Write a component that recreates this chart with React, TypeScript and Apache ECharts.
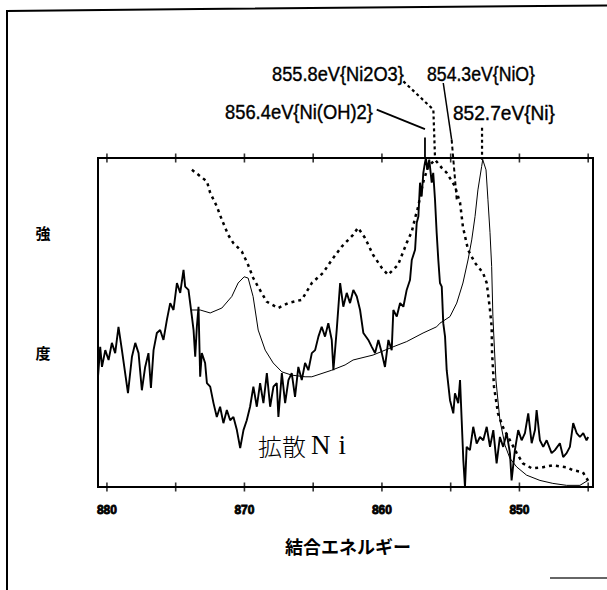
import { useEffect, useRef } from "react";
import * as echarts from "echarts";

// binding energy axis (eV), reversed
const xRange = [844.65, 880.65];
const xTicks = [845, 850, 855, 860, 865, 870, 875, 880];
const xTickLabels = [850, 860, 870, 880];
const yRange = [0, 100];

// 拡散Ni (diffused Ni) – noisy measured spectrum  [eV, intensity]
const diffusedNi: [number, number][] = [
  [880.65, 33.5], [880.49, 42.6], [880.36, 36.5], [880.12, 41.6], [879.88, 38.6], [879.64, 43.8],
  [879.4, 40.7], [879.16, 48.7], [878.91, 41.6], [878.47, 28.5], [878.18, 39.6], [877.94, 43.8],
  [877.7, 40.7], [877.46, 29.4], [877.22, 36.5], [876.98, 40.7], [876.8, 30.1], [876.61, 41.6],
  [876.37, 46.8], [876.13, 47.7], [875.89, 44.7], [875.64, 50.8], [875.4, 55.9], [875.16, 53.8],
  [874.91, 62.0], [874.67, 59.0], [874.43, 66.0], [874.31, 60.9], [874.07, 59.9], [873.82, 51.8],
  [873.7, 47.7], [873.58, 39.6], [873.46, 48.7], [873.34, 54.8], [873.22, 33.5], [873.1, 40.7],
  [872.86, 37.7], [872.73, 31.6], [872.49, 30.5], [872.25, 25.5], [872.01, 21.3], [871.77, 24.4],
  [871.53, 19.4], [871.28, 23.4], [871.04, 20.3], [870.8, 21.3], [870.55, 17.3], [870.31, 11.8],
  [870.07, 17.3], [869.83, 20.3], [869.59, 24.4], [869.35, 30.5], [869.1, 24.4], [868.86, 31.6],
  [868.62, 25.5], [868.37, 34.6], [868.13, 24.4], [867.89, 30.5], [867.65, 31.6], [867.53, 21.3],
  [867.28, 34.6], [867.04, 25.5], [866.8, 32.5], [866.56, 34.6], [866.32, 27.4], [866.08, 36.5],
  [865.83, 32.5], [865.59, 37.7], [865.35, 35.5], [865.1, 40.7], [864.86, 41.6], [864.62, 45.7],
  [864.38, 48.7], [864.14, 45.7], [863.9, 49.8], [863.65, 44.7], [863.53, 35.5], [863.29, 47.7],
  [863.04, 62.0], [862.81, 54.8], [862.56, 59.0], [862.32, 55.9], [862.08, 59.9], [861.83, 57.9],
  [861.59, 53.8], [861.35, 46.8], [860.99, 44.7], [860.74, 42.6], [860.5, 40.7], [860.26, 44.7],
  [860.01, 40.7], [859.78, 36.5], [859.53, 44.7], [859.29, 41.6], [859.17, 53.8], [858.92, 51.8],
  [858.68, 55.9], [858.44, 54.8], [858.2, 59.9], [857.96, 62.9], [857.83, 69.0], [857.59, 72.1],
  [857.47, 80.3], [857.35, 82.2], [857.23, 92.5], [857.11, 88.3], [856.99, 95.5], [856.87, 98.6],
  [856.8, 100], [856.7, 96.4], [856.56, 99.5], [856.38, 92.5], [856.27, 95.5], [856.14, 87.3],
  [856.02, 77.3], [855.9, 69.0], [855.78, 62.0], [855.65, 60.9], [855.54, 49.8], [855.41, 45.7],
  [855.29, 35.5], [855.05, 26.4], [854.81, 22.4], [854.69, 28.5], [854.45, 25.5], [854.32, 32.5],
  [854.2, 20.3], [854.08, 8.1], [853.96, 0], [853.84, 12.2], [853.6, 11.2], [853.36, 18.3],
  [853.11, 13.2], [852.87, 15.2], [852.63, 14.2], [852.38, 18.3], [852.14, 12.2], [851.9, 17.3],
  [851.66, 7.2], [851.42, 15.2], [851.18, 12.2], [850.93, 16.4], [850.69, 10.3], [850.57, 2.0],
  [850.33, 11.2], [850.09, 17.3], [849.84, 14.2], [849.6, 16.4], [849.36, 22.4], [849.11, 13.3],
  [848.87, 17.3], [848.75, 23.4], [848.51, 14.2], [848.27, 12.2], [848.02, 14.2], [847.66, 10.3],
  [847.42, 11.2], [847.06, 13.3], [846.82, 9.1], [846.57, 10.3], [846.33, 12.2], [846.09, 19.4],
  [845.84, 16.4], [845.6, 15.2], [845.36, 16.4], [845.12, 14.2], [845.0, 15.2],
];

// thin solid reference spectrum (Ni, peak 852.7 eV)
const refNi: [number, number][] = [
  [873.82, 53.8], [873.22, 53.8], [872.49, 52.9], [871.64, 54.4], [870.92, 57.9], [870.46, 62.0],
  [870.02, 63.9], [869.73, 63.5], [869.37, 57.9], [869.0, 47.7], [868.49, 41.6], [867.91, 37.7],
  [867.28, 35.0], [866.56, 34.0], [865.59, 33.5], [865.1, 33.5], [863.65, 35.5], [862.68, 37.1],
  [862.1, 38.6], [860.65, 40.1], [859.19, 42.6], [858.2, 44.2], [857.01, 46.8], [856.02, 48.7],
  [855.78, 49.8], [855.05, 51.8], [854.56, 55.9], [854.11, 62.0], [853.74, 69.0], [853.47, 75.1],
  [853.23, 82.2], [853.02, 90.3], [852.75, 97.4], [852.67, 99.5], [852.43, 96.4], [852.29, 87.3],
  [852.14, 77.3], [852.02, 67.0], [851.93, 51.8], [851.71, 32.5], [851.42, 20.3], [851.05, 12.7],
  [850.69, 8.7], [850.2, 6.1], [849.48, 3.6], [848.51, 2.0], [847.57, 1.1], [846.57, 0.5],
  [845.6, 0.5], [845.02, 2.0],
];

// dotted reference spectrum (peak near 856 eV)
const refOxide: [number, number][] = [
  [873.82, 96.4], [872.73, 92.9], [872.49, 89.4], [872.01, 85.3], [871.64, 81.2], [871.18, 76.6],
  [870.82, 74.2], [870.19, 71.6], [869.73, 67.5], [869.37, 63.6], [869.0, 60.8], [868.37, 56.3],
  [867.55, 54.4], [866.82, 55.9], [865.83, 56.9], [865.1, 62.0], [864.28, 65.1], [863.65, 69.0],
  [862.92, 73.1], [862.1, 76.6], [861.74, 78.8], [861.23, 75.7], [860.65, 70.6], [860.01, 66.6],
  [859.56, 64.5], [858.83, 67.5], [858.2, 74.2], [857.83, 77.6], [857.59, 81.8], [857.38, 84.9],
  [857.01, 92.5], [856.65, 97.3], [856.14, 99.5], [855.65, 97.0], [855.29, 95.5], [854.69, 91.4],
  [854.32, 86.4], [854.11, 79.1], [853.74, 72.1], [853.23, 68.1], [852.65, 65.1], [852.38, 62.0],
  [852.14, 53.8], [852.02, 48.7], [851.99, 40.7], [851.85, 30.5], [851.56, 22.4], [851.2, 18.2],
  [850.69, 14.2], [850.2, 10.3], [849.75, 7.2], [849.11, 5.7], [848.29, 6.0], [847.57, 6.6],
  [846.57, 6.0], [846.11, 5.1], [845.39, 4.5], [845.02, 2.0], [844.88, 0.8],
];

// peak marker lines (eV, intensity; drawn above the frame)
const markNiOH2Leader: [number, number][] = [[860.38, 114.7], [856.87, 108.8]];
const markNiOH2: [number, number][] = [[856.87, 106.2], [856.87, 100]];
const markNi2O3: [number, number][] = [[858.44, 123.3], [856.26, 114.7], [856.14, 100]];
const markNiOLeader: [number, number][] = [[855.54, 122.8], [854.93, 105.6]];
const markNiO: [number, number][] = [[854.93, 105.6], [854.56, 87.3]];
const markNi: [number, number][] = [[852.72, 109.2], [852.72, 99.5]];

const peakLabels = ["855.8eV{Ni2O3}", "854.3eV{NiO}", "856.4eV{Ni(OH)2}", "852.7eV{Ni}"];
const sampleLabel = "拡散Ni";
const xName = "結合エネルギー";
const yName = ["強", "度"];

function measure(text: string, font: string): number {
  const c = document.createElement("canvas").getContext("2d");
  if (!c) return text.length * 10;
  c.font = font;
  return c.measureText(text).width;
}

export default function App() {
  const ref = useRef<HTMLDivElement>(null);
  useEffect(() => {
    if (!ref.current) return;
    const chart = echarts.init(ref.current, null, { renderer: "svg" });
    const labelFont = '20px "Liberation Sans"';
    const fitText = (text: string, left: number, right: number, cy: number) => ({
      type: "text",
      x: left,
      y: cy,
      scaleX: (right - left) / measure(text, labelFont),
      style: {
        text,
        font: labelFont,
        fill: "#000",
        textAlign: "left",
        textVerticalAlign: "middle",
        stroke: "#000",
        lineWidth: 0.4,
      },
    });
    const markStyle = (width: number, type: any) => ({
      type: "line",
      clip: false,
      symbol: "none",
      silent: true,
      lineStyle: { color: "#000", width, type },
    });
    const tickSeries = (y: number) => ({
      type: "scatter",
      clip: false,
      silent: true,
      symbol: "rect",
      symbolSize: [1.6, 9],
      itemStyle: { color: "#000" },
      data: xTicks.map((v) => [v, y]),
    });
    chart.setOption({
      animation: false,
      backgroundColor: "#fff",
      grid: {
        left: 98,
        top: 158,
        width: 495,
        height: 329,
        show: true,
        borderColor: "#000",
        borderWidth: 2,
        backgroundColor: "transparent",
      },
      xAxis: {
        type: "value",
        min: xRange[0],
        max: xRange[1],
        inverse: true,
        axisLine: { show: false },
        splitLine: { show: false },
        axisTick: { show: false },
        axisLabel: {
          show: true,
          customValues: xTickLabels,
          margin: 17,
          fontFamily: "Liberation Sans",
          fontWeight: 900,
          fontSize: 12,
          color: "#000",
          textBorderColor: "#000",
          textBorderWidth: 0.8,
        },
      },
      yAxis: {
        type: "value",
        min: yRange[0],
        max: yRange[1],
        axisLine: { show: false },
        axisTick: { show: false },
        axisLabel: { show: false },
        splitLine: { show: false },
      },
      series: [
        {
          name: "reference oxide",
          type: "line",
          data: refOxide,
          symbol: "none",
          lineStyle: { color: "#000", width: 2.5, type: [3, 4] },
        },
        {
          name: "reference Ni",
          type: "line",
          data: refNi,
          symbol: "none",
          lineStyle: { color: "#000", width: 1 },
        },
        {
          name: sampleLabel,
          type: "line",
          data: diffusedNi,
          symbol: "none",
          lineStyle: { color: "#000", width: 1.9 },
        },
        tickSeries(yRange[0]),
        tickSeries(yRange[1]),
        { ...markStyle(1.8, "solid"), data: markNiOH2Leader },
        { ...markStyle(1.8, "solid"), data: markNiOH2 },
        { ...markStyle(2.2, [3, 3]), data: markNi2O3 },
        { ...markStyle(1.5, "solid"), data: markNiOLeader },
        { ...markStyle(2, [4, 3]), data: markNiO },
        { ...markStyle(2.2, [3, 3]), data: markNi },
      ],
      graphic: [
        { type: "polyline", shape: { points: [[7, 590], [7, 11], [200, 9], [607, 5.5]] }, style: { stroke: "#000", lineWidth: 2, fill: "none" } },
        { type: "line", shape: { x1: 550, y1: 578, x2: 607, y2: 578 }, style: { stroke: "#666", lineWidth: 2 } },
        fitText(peakLabels[0], 272, 404, 74),
        fitText(peakLabels[1], 427, 535, 74),
        fitText(peakLabels[2], 225, 373, 112.5),
        fitText(peakLabels[3], 453, 555, 112.5),
        {
          type: "text",
          x: 258,
          y: 445,
          style: {
            text: "{a|拡散}{n|N}{i|i}",
            textVerticalAlign: "middle",
            rich: {
              a: { fontFamily: "Noto Sans CJK JP", fontSize: 24, fontWeight: 300, fill: "#000" },
              n: { fontFamily: "Liberation Serif", fontSize: 27, fill: "#000", padding: [0, 0, 0, 5] },
              i: { fontFamily: "Liberation Serif", fontSize: 27, fill: "#000", padding: [0, 0, 0, 8] },
            },
          },
        },
        {
          type: "text",
          x: 348,
          y: 546,
          style: { text: xName, font: 'bold 18px "Noto Sans CJK JP"', fill: "#000", textAlign: "center", textVerticalAlign: "middle" },
        },
        {
          type: "text",
          x: 43,
          y: 232,
          style: { text: yName[0], font: 'bold 15px "Noto Sans CJK JP"', fill: "#000", textAlign: "center", textVerticalAlign: "middle" },
        },
        {
          type: "text",
          x: 43,
          y: 352,
          style: { text: yName[1], font: 'bold 15px "Noto Sans CJK JP"', fill: "#000", textAlign: "center", textVerticalAlign: "middle" },
        },
      ],
    });
    return () => chart.dispose();
  }, []);
  return <div ref={ref} style={{ position: "fixed", left: 0, top: 0, width: 607, height: 590, background: "#fff" }} />;
}
